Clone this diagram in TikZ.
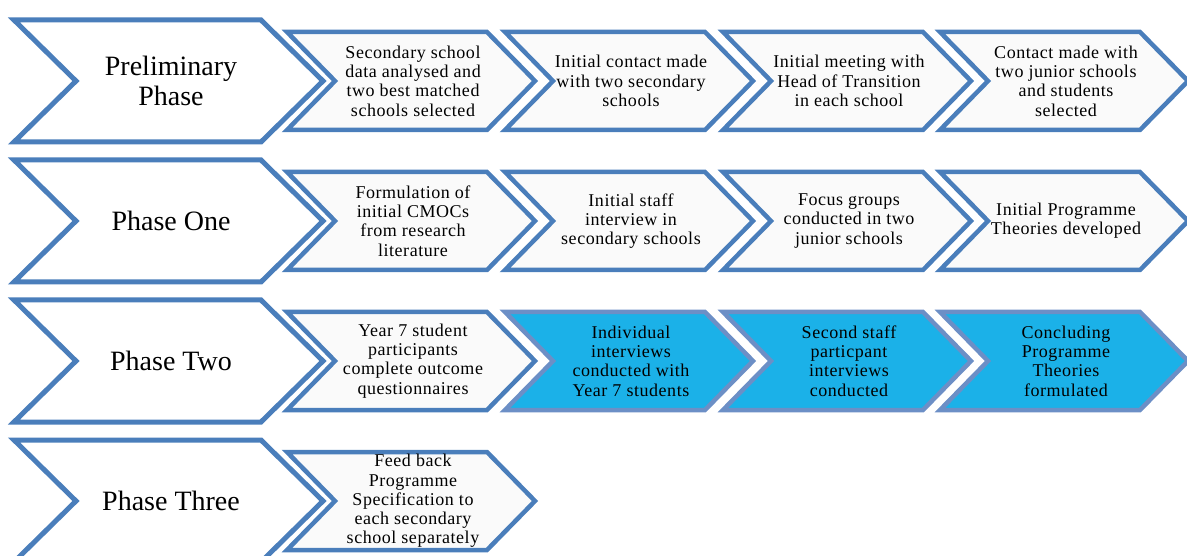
\documentclass[tikz,border=0pt]{standalone}
\usepackage{fontspec}
\setmainfont{Liberation Serif}
\newfontfamily\stepfont[LetterSpace=3]{Liberation Serif}
\usetikzlibrary{calc}

\definecolor{chevblue}{RGB}{74,126,187}
\definecolor{hiblue}{RGB}{27,177,232}
\definecolor{hiline}{RGB}{108,143,198}
\definecolor{stepfill}{RGB}{250,250,250}

\def\phaselist{%  \y/\pname/\ptext
  {81/ph1/Preliminary\\Phase},%
  {221/ph2/Phase One},%
  {361/ph3/Phase Two},%
  {501/ph4/Phase Three}%
}
\def\steplist{%  \y/\L/\sname/\fillc/\linec/\stext
  {81/287/s1a/stepfill/chevblue/Secondary school\\data analysed and\\two best matched\\schools selected},%
  {81/505/s1b/stepfill/chevblue/Initial contact made\\with two secondary\\schools},%
  {81/723/s1c/stepfill/chevblue/Initial meeting with\\Head of Transition\\in each school},%
  {81/940/s1d/stepfill/chevblue/Contact made with\\two junior schools\\and students\\selected},%
%
  {221/287/s2a/stepfill/chevblue/Formulation of\\initial CMOCs\\from research\\literature},%
  {221/505/s2b/stepfill/chevblue/Initial staff\\interview in\\secondary schools},%
  {221/723/s2c/stepfill/chevblue/Focus groups\\conducted in two\\junior schools},%
  {221/940/s2d/stepfill/chevblue/Initial Programme\\Theories developed},%
%
  {361/287/s3a/stepfill/chevblue/Year 7 student\\participants\\complete outcome\\questionnaires},%
  {361/505/s3b/hiblue/hiline/Individual\\interviews\\conducted with\\Year 7 students},%
  {361/723/s3c/hiblue/hiline/Second staff\\particpant\\interviews\\conducted},%
  {361/940/s3d/hiblue/hiline/Concluding\\Programme\\Theories\\formulated},%
%
  {501/287/s4a/stepfill/chevblue/Feed back\\Programme\\Specification to\\each secondary\\school separately}%
}

\begin{document}
\begin{tikzpicture}[x=1pt,y=-1pt,
    phasechev/.style={draw=chevblue,line width=5pt,fill=white,line join=miter},
    stepchev/.style={line width=4.5pt,line join=miter},
    phasetext/.style={align=center,inner sep=0pt,
      font=\fontsize{28}{30}\selectfont},
    steptext/.style={align=center,inner sep=0pt,
      font=\stepfont\fontsize{18}{19.3}\selectfont}]

  \useasboundingbox (0,0) rectangle (1187,556);

  % phase arrows
  \foreach \y/\pname/\ptext in \phaselist {%
    \draw[phasechev] (14,\y-61) -- ++(247,0) -- ++(62,61) -- ++(-62,61)
      -- ++(-247,0) -- ++(62,-61) -- cycle;
    \node[phasetext] (\pname) at (171,\y) {\ptext};
  }

  % step arrows
  \foreach \y/\L/\sname/\fillc/\linec/\stext in \steplist {%
    \draw[stepchev,draw=\linec,fill=\fillc] (\L,\y-49) -- ++(200,0)
      -- ++(48,49) -- ++(-48,49) -- ++(-200,0) -- ++(48,-49) -- cycle;
    \node[steptext] (\sname) at (\L+126,\y) {\stext};
  }

\end{tikzpicture}
\end{document}
